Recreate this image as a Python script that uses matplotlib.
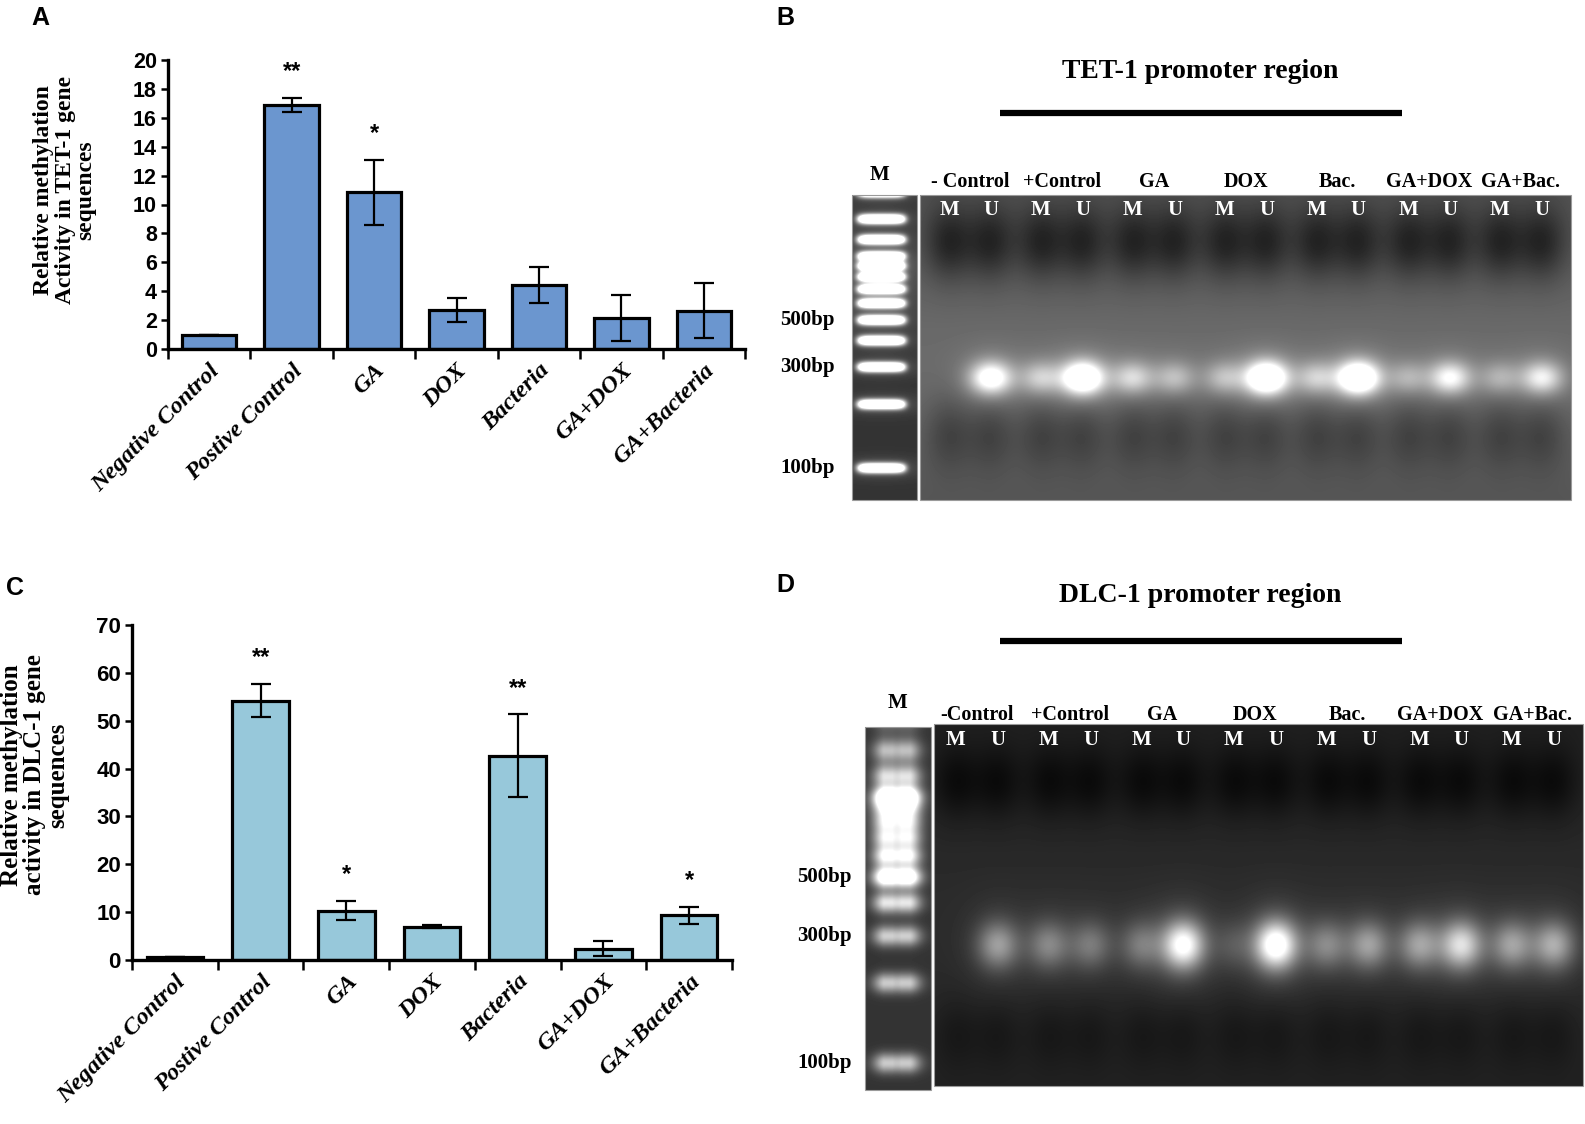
import numpy as np
import matplotlib
matplotlib.use('Agg')
import matplotlib.pyplot as plt

# ---- data ----
groups = ['Negative Control', 'Postive Control', 'GA', 'DOX', 'Bacteria', 'GA+DOX', 'GA+Bacteria']

tet1_mean = [1.0, 16.9, 10.85, 2.7, 4.4, 2.15, 2.65]
tet1_err = [0.0, 0.5, 2.25, 0.8, 1.25, 1.6, 1.9]
tet1_stars = ['', '**', '*', '', '', '', '']

dlc1_mean = [0.6, 54.2, 10.3, 7.0, 42.7, 2.4, 9.3]
dlc1_err = [0.0, 3.5, 2.0, 0.3, 8.6, 1.6, 1.8]
dlc1_stars = ['', '**', '*', '', '**', '', '*']

# gel lanes (pairs of M / U)
tet1_gel_groups = ['- Control', '+Control', 'GA', 'DOX', 'Bac.', 'GA+DOX', 'GA+Bac.']
dlc1_gel_groups = ['-Control', '+Control', 'GA', 'DOX', 'Bac.', 'GA+DOX', 'GA+Bac.']
tet1_band_M = [0.0, 0.35, 0.4, 0.3, 0.35, 0.25, 0.25]
tet1_band_U = [0.7, 0.95, 0.3, 1.0, 1.0, 0.55, 0.5]
dlc1_band_M = [0.0, 0.35, 0.3, 0.15, 0.35, 0.45, 0.45]
dlc1_band_U = [0.45, 0.3, 0.9, 1.0, 0.45, 0.7, 0.5]

ladder_bp = [100, 200, 300, 400, 500, 600, 700, 800, 900, 1000, 1200, 1500, 2000]
ladder_int_B = [1.6] * 13
ladder_int_D = [0.55, 0.55, 0.55, 0.6, 0.95, 0.6, 0.45, 0.4, 0.4, 0.95, 0.4, 0.35, 0.3]
ladder_labels = [500, 300, 100]

W, H = 1585, 1124
fig = plt.figure(figsize=(W / 100, H / 100), dpi=100)

# overlay in pixel coordinates for gels and free text
ov = fig.add_axes([0, 0, 1, 1])
ov.patch.set_visible(False)
ov.axis('off')

serif = ['Liberation Serif', 'DejaVu Serif']
sans = ['Liberation Sans', 'DejaVu Sans']
narrow = ['Liberation Sans Narrow', 'Liberation Sans', 'DejaVu Sans']


def bar_panel(rect, means, errs, stars, color, ymax, ystep, ylabel, label_xy, tick_fs, lab_fs):
    ax = fig.add_axes([rect[0] / W, 1 - rect[3] / H, (rect[2] - rect[0]) / W, (rect[3] - rect[1]) / H])
    x = np.arange(len(groups))
    ax.bar(x, means, width=0.66, color=color, edgecolor='black', linewidth=2.3, zorder=2)
    ax.errorbar(x, means, yerr=errs, fmt='none', ecolor='black', elinewidth=1.6,
                capsize=7, capthick=1.6, zorder=3)
    for xi, m, e, s in zip(x, means, errs, stars):
        if s:
            ax.annotate(s, (xi, m + e), xytext=(0, 19), textcoords='offset points',
                        ha='center', va='center', fontsize=17, fontweight='bold',
                        family=sans)
    ax.set_xlim(-0.5, len(groups) - 0.5)
    ax.set_ylim(0, ymax)
    ax.set_yticks(np.arange(0, ymax + 1, ystep))
    ax.set_xticks(np.arange(-0.5, len(groups)))
    ax.set_xticklabels([])
    ax.set_xticks(x, minor=True)
    ax.set_xticklabels(groups, minor=True, rotation=45, ha='right', rotation_mode='anchor',
                       fontsize=17.5, fontweight='bold', fontstyle='italic', family=serif)
    ax.tick_params(axis='x', which='major', direction='out', length=7, width=1.8)
    ax.tick_params(axis='x', which='minor', length=0, pad=8)
    ax.tick_params(axis='y', direction='out', length=5, width=1.8, pad=3)
    for t in ax.get_yticklabels():
        t.set_fontsize(tick_fs)
        t.set_fontweight('bold')
        t.set_family(narrow)
    for sp in ['top', 'right']:
        ax.spines[sp].set_visible(False)
    for sp in ['left', 'bottom']:
        ax.spines[sp].set_linewidth(2.4)
    ov.text(label_xy[0], label_xy[1], ylabel, rotation=90, ha='center', va='center',
            multialignment='center', fontsize=lab_fs, fontweight='bold', family=serif,
            linespacing=1.0)
    return ax


bar_panel((168, 60, 745, 349), tet1_mean, tet1_err, tet1_stars, '#6b96cf', 20, 2,
          'Relative methylation\nActivity in TET-1 gene\nsequences', (65, 190), 15.5, 17)
bar_panel((132, 625, 732, 960), dlc1_mean, dlc1_err, dlc1_stars, '#97c8da', 70, 10,
          'Relative methylation\nactivity in DLC-1 gene\nsequences', (35, 775), 16, 18)


# ---- gels ----
def grid(x0, x1, y0, y1):
    return np.meshgrid(np.arange(x0, x1) + 0.5, np.arange(y0, y1) + 0.5)


def spot(X, Y, cx, cy, sx, sy):
    return np.exp(-((X - cx) / sx) ** 2 / 2 - ((Y - cy) / sy) ** 2 / 2)


def show(img, x0, x1, y0, y1):
    ov.imshow(np.clip(img, 0, 1), cmap='gray', vmin=0, vmax=1, extent=(x0, x1, y1, y0),
              aspect='auto', interpolation='bilinear', zorder=1)
    ov.add_patch(plt.Rectangle((x0, y0), x1 - x0, y1 - y0, fill=False, edgecolor='#9a9a9a',
                               lw=0.8, zorder=2))


def gel_panel(gx, gy, mx, my, band_M, band_U, gel_groups, base, amp, blob_y, blob_d,
              band_y, band_s, lad_ab, lad_int, lad_dbl, lad_right, title, title_y,
              bar_y, letter, letter_xy, grp_y, mu_y, m_xy, pad):
    # main gel
    X, Y = grid(gx[0], gx[1], gy[0], gy[1])
    t = (Y - gy[0]) / (gy[1] - gy[0])
    img = base[0] + base[1] * np.exp(-((t - 0.55) / 0.38) ** 2)
    centers = np.linspace(gx[0] + pad[0], gx[1] - pad[1], len(gel_groups))
    lanes = []
    for c, bm, bu in zip(centers, band_M, band_U):
        for lx, b in ((c - 21, bm), (c + 21, bu)):
            lanes.append(lx)
            img -= blob_d[0] * spot(X, Y, lx, blob_y[0], 17, 26)
            img -= blob_d[1] * spot(X, Y, lx, blob_y[1], 17, 26)
            img += amp * b * spot(X, Y, lx, band_y, 14, band_s)
            img += 0.2 * b * spot(X, Y, lx, band_y, 22, band_s * 1.8)
    show(img, gx[0], gx[1], gy[0], gy[1])

    # marker lane
    X, Y = grid(mx[0], mx[1], my[0], my[1])
    mc = (mx[0] + mx[1]) / 2 - (3 if not lad_dbl else 1)
    img = 0.2 + 0.0 * X
    prof = np.exp(-((X - mc) / 21) ** 6 / 2)
    sig = 3.3
    if lad_dbl:
        sig = 7
        prof = np.exp(-((X - mc + 11) / 9) ** 2 / 2) + np.exp(-((X - mc - 11) / 9) ** 2 / 2)
        prof = np.clip(prof, 0, 1)
        img += 0.3 * prof * np.exp(-((Y - (my[0] + 80)) / 55) ** 2 / 2)
    for bp, k in zip(ladder_bp, lad_int):
        yb = lad_ab[0] + lad_ab[1] * np.log10(bp)
        img += k * prof * np.exp(-((Y - yb) / sig) ** 2 / 2)
        img += 0.08 * k * np.exp(-((X - mc) / 30) ** 2 / 2 - ((Y - yb) / 8) ** 2 / 2)
    show(img, mx[0], mx[1], my[0], my[1])

    for bp in ladder_labels:
        ov.text(lad_right, lad_ab[0] + lad_ab[1] * np.log10(bp), f'{bp}bp', ha='right',
                va='center', fontsize=15, fontweight='bold', family=serif)
    ov.text(m_xy[0], m_xy[1], 'M', ha='center', va='center', fontsize=15, fontweight='bold',
            family=serif)
    for c, g in zip(centers, gel_groups):
        ov.text(c, grp_y, g, ha='center', va='center', fontsize=14.5, fontweight='bold',
                family=serif)
    for i, lx in enumerate(lanes):
        ov.text(lx, mu_y, 'MU'[i % 2], ha='center', va='center', fontsize=15, color='white',
                fontweight='bold', family=serif, zorder=3)
    ov.text(1200, title_y, title, ha='center', va='center', fontsize=20, fontweight='bold',
            family=serif)
    ov.plot([1000, 1402], [bar_y, bar_y], color='black', lw=4.5, solid_capstyle='butt')
    ov.text(letter_xy[0], letter_xy[1], letter, ha='center', va='center', fontsize=18,
            fontweight='bold', family=sans)


gel_panel((920, 1571), (195, 500), (852, 917), (195, 500), tet1_band_M, tet1_band_U,
          tet1_gel_groups, (0.31, 0.11), 0.9, (243, 433), (0.2, 0.12), 378, 11,
          (891.4, -211.7), ladder_int_B, False, 835, 'TET-1 promoter region', 72, 113,
          'B', (785, 18), 182, 210, (880, 175), (50, 50))
gel_panel((934, 1583), (724, 1086), (865, 931), (727, 1090), dlc1_band_M, dlc1_band_U,
          dlc1_gel_groups, (0.12, 0.05), 0.8, (783, 1033), (0.09, 0.05), 945, 16,
          (1595.0, -266.0), ladder_int_D, True, 852, 'DLC-1 promoter region', 596, 641,
          'D', (785, 585), 715, 740, (898, 703), (43, 50))

ov.text(40, 18, 'A', ha='center', va='center', fontsize=18, fontweight='bold', family=sans)
ov.text(15, 588, 'C', ha='center', va='center', fontsize=18, fontweight='bold', family=sans)

ov.set_xlim(0, W)
ov.set_ylim(H, 0)

fig.savefig('out.png', dpi=100)
